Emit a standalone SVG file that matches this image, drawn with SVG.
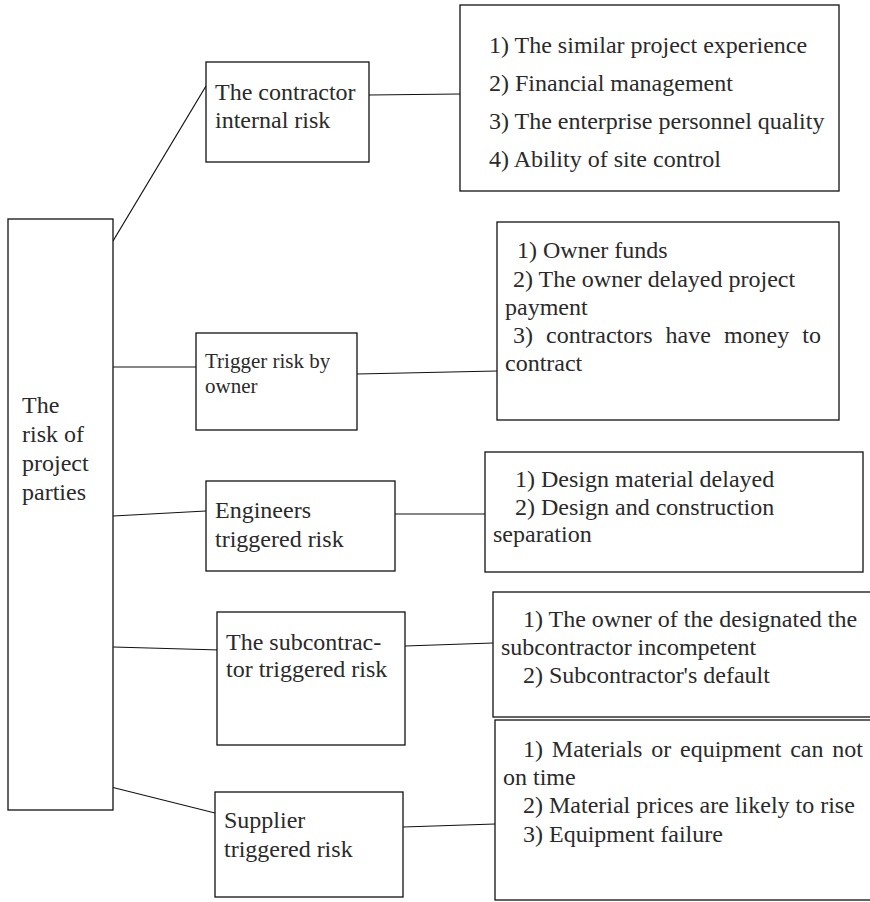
<svg xmlns="http://www.w3.org/2000/svg" width="870" height="902" viewBox="0 0 870 902">
  <style>
    .box { fill: #ffffff; stroke: #111111; stroke-width: 1.3; }
    .link { stroke: #111111; stroke-width: 1.2; fill: none; }
    text { font-family: "Liberation Serif", "Times New Roman", serif; font-size: 24px; fill: #2a2a2a; }
    .small { font-size: 21px; }
  </style>
  <rect x="0" y="0" width="870" height="902" fill="#ffffff"/>

  <!-- connectors -->
  <g id="connectors">
    <line class="link" x1="113" y1="241" x2="206" y2="86"/>
    <line class="link" x1="369" y1="95" x2="460" y2="94"/>
    <line class="link" x1="109" y1="367" x2="196" y2="367"/>
    <line class="link" x1="357" y1="374" x2="497" y2="371"/>
    <line class="link" x1="113" y1="516" x2="206" y2="511"/>
    <line class="link" x1="395" y1="514" x2="485" y2="514"/>
    <line class="link" x1="113" y1="647" x2="220" y2="650"/>
    <line class="link" x1="405" y1="646" x2="493" y2="643"/>
    <line class="link" x1="111" y1="787" x2="215" y2="813"/>
    <line class="link" x1="403" y1="827" x2="495" y2="824"/>
  </g>

  <!-- root -->
  <g id="project-parties">
    <rect class="box" x="8" y="219" width="105" height="591"/>
    <text x="22" y="413">The</text>
    <text x="22" y="442">risk of</text>
    <text x="22" y="471">project</text>
    <text x="22" y="500">parties</text>
  </g>

  <!-- contractor branch -->
  <g id="contractor-risk">
    <rect class="box" x="206" y="62" width="163" height="100"/>
    <text x="215" y="100">The contractor</text>
    <text x="215" y="128">internal risk</text>
  </g>
  <g id="contractor-items">
    <rect class="box" x="460" y="5" width="379" height="186"/>
    <text x="489" y="53">1) The similar project experience</text>
    <text x="489" y="91">2) Financial management</text>
    <text x="489" y="129">3) The enterprise personnel quality</text>
    <text x="489" y="167">4) Ability of site control</text>
  </g>

  <!-- owner branch -->
  <g id="owner-risk">
    <rect class="box" x="196" y="333" width="161" height="97"/>
    <text class="small" x="205" y="368">Trigger risk by</text>
    <text class="small" x="205" y="393">owner</text>
  </g>
  <g id="owner-items">
    <rect class="box" x="497" y="222" width="342" height="198"/>
    <text x="517" y="258">1) Owner funds</text>
    <text x="513" y="287">2) The owner delayed project</text>
    <text x="505" y="315">payment</text>
    <text x="513" y="343" word-spacing="7">3) contractors have money to</text>
    <text x="505" y="371">contract</text>
  </g>

  <!-- engineer branch -->
  <g id="engineer-risk">
    <rect class="box" x="206" y="481" width="189" height="90"/>
    <text x="215" y="518">Engineers</text>
    <text x="215" y="547">triggered risk</text>
  </g>
  <g id="engineer-items">
    <rect class="box" x="485" y="452" width="378" height="120"/>
    <text x="515" y="487">1) Design material delayed</text>
    <text x="515" y="515">2) Design and construction</text>
    <text x="493" y="542">separation</text>
  </g>

  <!-- subcontractor branch -->
  <g id="subcontractor-risk">
    <rect class="box" x="217" y="612" width="188" height="133"/>
    <text x="226" y="650">The subcontrac-</text>
    <text x="226" y="677">tor triggered risk</text>
  </g>
  <g id="subcontractor-items">
    <rect class="box" x="493" y="592" width="400" height="125"/>
    <text x="523" y="627">1) The owner of the designated the</text>
    <text x="501" y="655">subcontractor incompetent</text>
    <text x="523" y="683">2) Subcontractor's default</text>
  </g>

  <!-- supplier branch -->
  <g id="supplier-risk">
    <rect class="box" x="215" y="792" width="188" height="105"/>
    <text x="224" y="828">Supplier</text>
    <text x="224" y="857">triggered risk</text>
  </g>
  <g id="supplier-items">
    <rect class="box" x="495" y="720" width="400" height="180"/>
    <text x="523" y="757" word-spacing="2.8">1) Materials or equipment can not</text>
    <text x="503" y="785">on time</text>
    <text x="523" y="813">2) Material prices are likely to rise</text>
    <text x="523" y="842">3) Equipment failure</text>
  </g>
</svg>
